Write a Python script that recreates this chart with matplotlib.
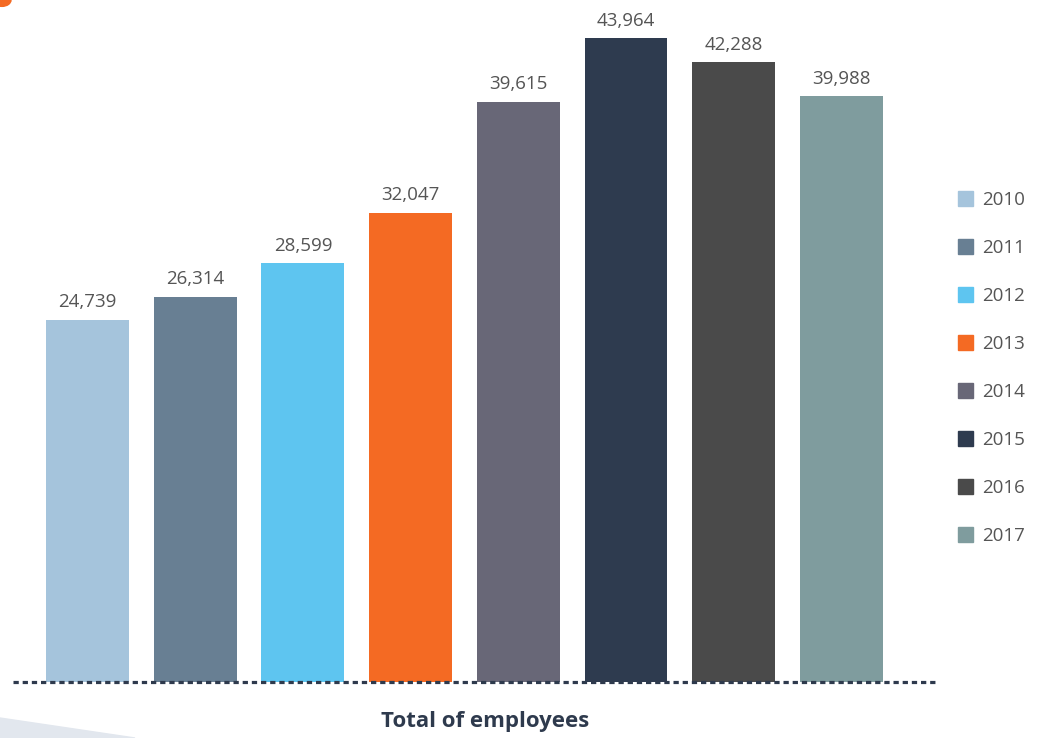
import matplotlib.pyplot as plt
from matplotlib.patches import Patch, Polygon, Circle

# data
years = ['2010', '2011', '2012', '2013', '2014', '2015', '2016', '2017']
employees = [24739, 26314, 28599, 32047, 39615, 43964, 42288, 39988]
colors = ['#a5c4dc', '#687f93', '#5ec5f0', '#f46a23',
          '#686777', '#2e3b4f', '#4a4a4a', '#7f9c9e']

plt.rcParams['font.family'] = ['Open Sans', 'DejaVu Sans']
plt.rcParams['lines.scale_dashes'] = False

W, H = 1044, 738
fig = plt.figure(figsize=(W / 100, H / 100), dpi=100)
ax = fig.add_axes([13 / W, 56 / H, (937 - 13) / W, (H - 56) / H])

x = range(len(years))
bars = ax.bar(x, employees, width=0.77, color=colors, zorder=2)

for i, v in enumerate(employees):
    ax.annotate(f'{v:,}', (i, v), xytext=(0, 6), textcoords='offset points',
                ha='center', va='bottom', fontsize=13.5, color='#555555')

# dotted baseline
ax.axhline(0, color='#2e3a4d', lw=2.3, linestyle=(0, (3.8, 2.8)),
           clip_on=False, zorder=3)

ax.set_xlim(-0.692, 7.888)
ax.set_ylim(0, 46553)
ax.axis('off')

handles = [Patch(color=c, label=y) for c, y in zip(colors, years)]
fig.legend(handles=handles, loc='upper left', bbox_to_anchor=(941 / W, 1 - 174 / H),
           frameon=False, fontsize=13.5, handlelength=0.8, handleheight=0.8,
           handletextpad=0.5, labelspacing=1.6, labelcolor='#555555')

fig.text(485 / W, 1 - 722 / H, 'Total of employees', ha='center', va='center',
         fontsize=16, fontweight='bold', color='#2e3a4d')

# decorations
fig.patches.append(Polygon([(0, 1 - 718 / H), (135 / W, 0), (0, 0)], closed=True,
                           transform=fig.transFigure, color='#e2e7ee', zorder=0))
fig.patches.append(Circle((2 / W, 1), 9 / W, transform=fig.transFigure,
                          color='#f46a23', zorder=0))

fig.savefig('out.png', dpi=100)
